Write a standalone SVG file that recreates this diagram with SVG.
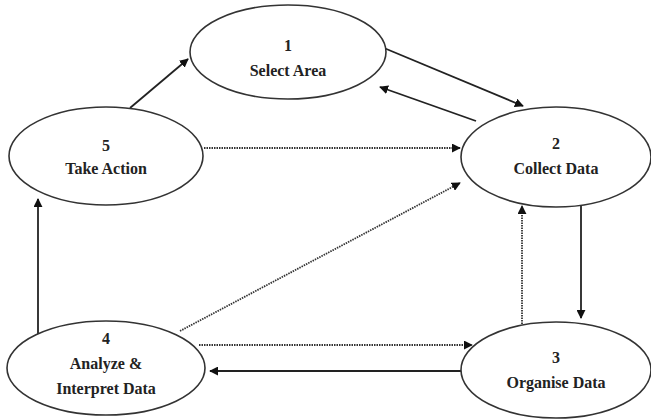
<svg xmlns="http://www.w3.org/2000/svg" width="651" height="420" viewBox="0 0 651 420">
<style>
.node ellipse{fill:#fff;stroke:#333;stroke-width:1.6}
.node text{font-family:"Liberation Serif",serif;font-weight:bold;font-size:16px;fill:#222;text-anchor:middle}
.solid{stroke:#222;stroke-width:1.8;fill:none}
.dot{stroke:#333;stroke-width:1.8;fill:none;stroke-dasharray:1.5,1}
</style>
<defs>
<marker id="ah" viewBox="0 0 10 10" refX="9" refY="5" markerWidth="5" markerHeight="5" orient="auto" markerUnits="strokeWidth">
<path d="M0,0 L10,5 L0,10 z" fill="#111"/>
</marker>
</defs>
<rect width="651" height="420" fill="#fff"/>
<g id="connectors">
<line class="solid" x1="130" y1="108" x2="188" y2="59" marker-end="url(#ah)"/>
<line class="solid" x1="384" y1="48" x2="523" y2="106" marker-end="url(#ah)"/>
<line class="solid" x1="476" y1="121" x2="380" y2="87" marker-end="url(#ah)"/>
<line class="dot" x1="204" y1="148" x2="460" y2="148" marker-end="url(#ah)"/>
<line class="dot" x1="180" y1="331" x2="460" y2="183" marker-end="url(#ah)"/>
<line class="solid" x1="38" y1="334" x2="38" y2="199" marker-end="url(#ah)"/>
<line class="dot" x1="199" y1="345" x2="472" y2="345" marker-end="url(#ah)"/>
<line class="solid" x1="461" y1="371" x2="210" y2="371" marker-end="url(#ah)"/>
<line class="dot" x1="522" y1="324" x2="522" y2="206" marker-end="url(#ah)"/>
<line class="solid" x1="581" y1="206" x2="581" y2="318" marker-end="url(#ah)"/>
</g>
<g id="node1" class="node">
<ellipse cx="288" cy="52" rx="98" ry="47"/>
<text x="288" y="51">1</text>
<text x="288" y="76">Select Area</text>
</g>
<g id="node2" class="node">
<ellipse cx="556" cy="157" rx="95" ry="50"/>
<text x="556" y="149">2</text>
<text x="556" y="174">Collect Data</text>
</g>
<g id="node3" class="node">
<ellipse cx="556" cy="370" rx="95" ry="48"/>
<text x="556" y="363">3</text>
<text x="556" y="388">Organise Data</text>
</g>
<g id="node4" class="node">
<ellipse cx="106" cy="368" rx="99" ry="47"/>
<text x="106" y="344">4</text>
<text x="106" y="369">Analyze &amp;</text>
<text x="106" y="394">Interpret Data</text>
</g>
<g id="node5" class="node">
<ellipse cx="106" cy="156" rx="97" ry="49"/>
<text x="106" y="151">5</text>
<text x="106" y="174">Take Action</text>
</g>
</svg>
